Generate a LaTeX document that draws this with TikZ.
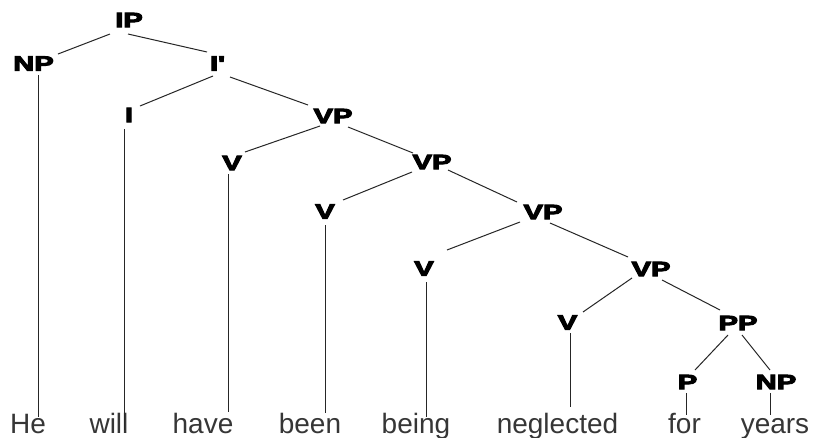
\documentclass[tikz,border=0pt]{standalone}
\usepackage{fontspec}
\setmainfont{Liberation Sans}
\newfontfamily\catfont{Liberation Sans Bold}[Ligatures=TeXOff]
\usetikzlibrary{calc}
\definecolor{wordgray}{HTML}{363636}
% category labels: widened bold face, outlined for a heavier stroke
\newcommand\widecat[1]{\scalebox{1.42}[1]{\special{pdf:literal direct q 0 0 0 RG 0.9 w 2 Tr}#1\special{pdf:literal direct 0 Tr Q}}}
\tikzset{
  cat/.style={inner sep=0pt, font=\catfont\fontsize{20.5}{22}\selectfont, text=black},
  word/.style={inner sep=0pt, anchor=base, font=\fontsize{28}{30}\selectfont, text=wordgray},
  branch/.style={draw=black!85, line width=1pt},
}
\begin{document}
\begin{tikzpicture}[x=1pt,y=-1pt]
\useasboundingbox[fill=white] (0,0) rectangle (817,437);

% category nodes
\node[cat] (IP)  at (129,20)    {\widecat{IP}};
\node[cat] (NPa) at (33.5,63.5) {\widecat{NP}};
\node[cat] (Ib)  at (217.5,63.5){\widecat{I'}};
\node[cat] (I)   at (129,115)   {\widecat{I}};
\node[cat] (VPa) at (333,116)   {\widecat{VP}};
\node[cat] (Va)  at (232,163)   {\widecat{V}};
\node[cat] (VPb) at (432,162)   {\widecat{VP}};
\node[cat] (Vb)  at (325,211.5) {\widecat{V}};
\node[cat] (VPc) at (543,212)   {\widecat{VP}};
\node[cat] (Vc)  at (424,268.5) {\widecat{V}};
\node[cat] (VPd) at (651,269)   {\widecat{VP}};
\node[cat] (Vd)  at (567.5,322.5){\widecat{V}};
\node[cat] (PP)  at (738,323)   {\widecat{PP}};
\node[cat] (P)   at (687.5,382) {\widecat{P}};
\node[cat] (NPb) at (776,382)   {\widecat{NP}};

% the words of the sentence
\node[word] (He)   at (28,433)    {He};
\node[word] (will) at (109,433)   {will};
\node[word] (have) at (203,433)   {have};
\node[word] (been) at (310,433)   {been};
\node[word] (being) at (416,433)  {being};
\node[word] (negl) at (557.5,433) {neglected};
\node[word] (for)  at (684.5,433) {for};
\node[word] (years) at (775,433)  {years};

% branches between categories
\draw[branch] ($(IP)+(-19,14)$)   -- ($(NPa)+(24.5,-9.5)$);
\draw[branch] ($(IP)+(-1,14)$)    -- ($(Ib)+(-10.5,-11.5)$);
\draw[branch] ($(Ib)+(-4.5,12.5)$) -- ($(I)+(11,-9)$);
\draw[branch] ($(Ib)+(12.5,13.5)$) -- ($(VPa)+(-25,-11)$);
\draw[branch] ($(VPa)+(-13,10)$)  -- ($(Va)+(13,-11)$);
\draw[branch] ($(VPa)+(15,11)$)   -- ($(VPb)+(-19,-9)$);
\draw[branch] ($(VPb)+(-20,10)$)  -- ($(Vb)+(18,-11.5)$);
\draw[branch] ($(VPb)+(16,8)$)    -- ($(VPc)+(-26,-10)$);
\draw[branch] ($(VPc)+(-23,10)$)  -- ($(Vc)+(23,-18.5)$);
\draw[branch] ($(VPc)+(7,11)$)    -- ($(VPd)+(-23,-12)$);
\draw[branch] ($(VPd)+(-19,9)$)   -- ($(Vd)+(15.5,-10.5)$);
\draw[branch] ($(VPd)+(11,11)$)   -- ($(PP)+(-18,-13)$);
\draw[branch] ($(PP)+(-10,12)$)   -- ($(P)+(7.5,-12)$);
\draw[branch] ($(PP)+(4,12)$)     -- ($(NPb)+(-6,-12)$);

% vertical branches down to the words
\draw[branch, shorten >=16pt] ($(NPa)+(4.5,11.5)$) coordinate (tNPa) -- (tNPa |- He.base);
\draw[branch, shorten >=3pt]  ($(I)+(-4.5,14)$)    coordinate (tI)   -- (tI |- will.base);
\draw[branch, shorten >=21pt] ($(Va)+(-4,11)$)     coordinate (tVa)  -- (tVa |- have.base);
\draw[branch, shorten >=20pt] ($(Vb)+(0,13.5)$)    coordinate (tVb)  -- (tVb |- been.base);
\draw[branch, shorten >=16pt] ($(Vc)+(2.5,13.5)$)  coordinate (tVc)  -- (tVc |- being.base);
\draw[branch, shorten >=26pt] ($(Vd)+(2.5,10.5)$)  coordinate (tVd)  -- (tVd |- negl.base);
\draw[branch, shorten >=18pt] ($(P)+(-1.5,11)$)    coordinate (tP)   -- (tP |- for.base);
\draw[branch, shorten >=18pt] ($(NPb)+(-6,11)$)    coordinate (tNPb) -- (tNPb |- years.base);
\end{tikzpicture}
\end{document}
